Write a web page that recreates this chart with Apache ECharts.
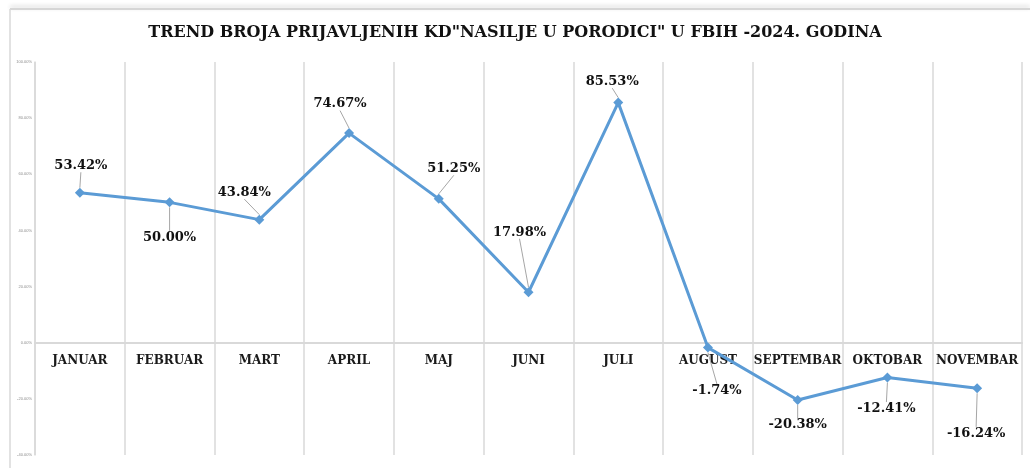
<!DOCTYPE html>
<html>
<head>
<meta charset="utf-8">
<script src="https://cdn.jsdelivr.net/npm/echarts@6/dist/echarts.min.js"></script>
<style>
html,body{margin:0;padding:0;background:#fff;}
#c{width:1030px;height:468px;}
</style>
</head>
<body>
<div id="c"></div>
<script>
const titleText = 'TREND BROJA PRIJAVLJENIH KD"NASILJE U PORODICI" U FBIH -2024. GODINA';
const months = ['JANUAR','FEBRUAR','MART','APRIL','MAJ','JUNI','JULI','AUGUST','SEPTEMBAR','OKTOBAR','NOVEMBAR'];
const trend = [53.42, 50.00, 43.84, 74.67, 51.25, 17.98, 85.53, -1.74, -20.38, -12.41, -16.24];
const yMin = -40, yMax = 100, yStep = 20;
// label displacement from its point (dx, dy) in pixels
const labelDX = [1, 0, -15, -9, 15, -9, -6, 9, 0, -1, -1];
const labelDY = [-27, 35, -27, -29, -30, -60, -21, 43, 25, 31, 45];

const gridTop = 62, gridBottom = 13, H = 468;
const plotH = H - gridTop - gridBottom;
// distance from plot bottom up to the zero line
const zeroOffset = plotH * (0 - yMin) / (yMax - yMin);

const chart = echarts.init(document.getElementById('c'), null, {renderer:'canvas'});
chart.setOption({
  backgroundColor: '#ffffff',
  animation: false,
  title: {
    text: titleText,
    left: 'center',
    top: 20,
    textStyle: {fontFamily: 'DejaVu Serif', fontWeight: 'bold', fontSize: 16, color: '#111'}
  },
  graphic: [
    {type:'line', shape:{x1:10,y1:9,x2:1030,y2:9}, style:{stroke:'#d6d6d6', lineWidth:2, shadowBlur:4, shadowColor:'rgba(0,0,0,0.18)', shadowOffsetY:-2}},
    {type:'line', shape:{x1:10,y1:9,x2:10,y2:468}, style:{stroke:'#d9d9d9', lineWidth:1.5}}
  ],
  grid: {left: 35, right: 8, top: gridTop, bottom: gridBottom, containLabel: false, outerBoundsMode: 'none'},
  xAxis: {
    type: 'category',
    data: months,
    boundaryGap: true,
    position: 'bottom',
    offset: -zeroOffset,
    axisLine: {show: true, onZero: false, lineStyle: {color: '#d9d9d9', width: 2}},
    axisTick: {show: false},
    splitLine: {show: true, interval: 0, lineStyle: {color: '#d9d9d9', width: 1.5}},
    axisLabel: {interval: 0, margin: 12, fontFamily: 'DejaVu Serif', fontWeight: 'bold', fontSize: 12, color: '#1a1a1a'}
  },
  yAxis: {
    type: 'value',
    min: yMin, max: yMax, interval: yStep,
    axisLine: {show: true, lineStyle: {color: '#d9d9d9', width: 1.5}},
    axisTick: {show: false},
    splitLine: {show: false},
    axisLabel: {margin: 3, fontSize: 4, color: '#8c8c8c', formatter: v => v.toFixed(2) + '%'}
  },
  series: [{
    type: 'line',
    data: trend,
    symbol: 'diamond',
    symbolSize: 10,
    lineStyle: {color: '#5b9bd5', width: 3},
    itemStyle: {color: '#5b9bd5'},
    label: {
      show: true,
      position: 'inside',
      formatter: p => p.value.toFixed(2) + '%',
      fontFamily: 'DejaVu Serif', fontWeight: 'bold', fontSize: 13, color: '#111'
    },
    labelLine: {show: true, lineStyle: {color: '#a6a6a6', width: 1}},
    labelLayout: p => ({dx: labelDX[p.dataIndex], dy: labelDY[p.dataIndex]})
  }]
});
</script>
</body>
</html>
